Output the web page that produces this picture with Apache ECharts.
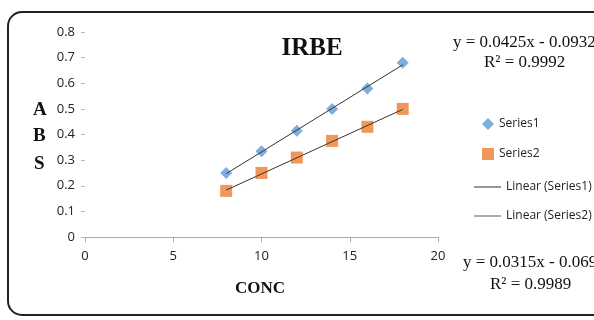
<!DOCTYPE html>
<html>
<head>
<meta charset="utf-8">
<script src="https://cdn.jsdelivr.net/npm/echarts@6/dist/echarts.min.js"></script>
<style>
  html, body { margin: 0; padding: 0; background: #fff; }
  #chart { width: 594px; height: 320px; }
</style>
</head>
<body>
<div id="chart"></div>
<script>
const conc = [8, 10, 12, 14, 16, 18];
const series1 = [0.25, 0.335, 0.415, 0.5, 0.58, 0.68];
const series2 = [0.18, 0.25, 0.31, 0.375, 0.43, 0.5];
const trend1 = [[8, 0.247], [18, 0.672]];
const trend2 = [[8, 0.183], [18, 0.498]];

const chart = echarts.init(document.getElementById("chart"));
const serif = "Liberation Serif, Times New Roman, serif";
const sans = "Open Sans, Liberation Sans, sans-serif";
const linePath = "path://M0,0L30,0L30,1.5L0,1.5Z";

chart.setOption({
  animation: false,
  grid: { left: 85, right: 156, top: 32, bottom: 83 },
  title: {
    text: "IRBE",
    left: 307,
    top: 31,
    textAlign: "center",
    textStyle: { fontFamily: serif, fontWeight: "bold", fontSize: 25, color: "#111" },
  },
  xAxis: {
    type: "value",
    min: 0,
    max: 20,
    interval: 5,
    axisLine: { show: true, lineStyle: { color: "#aaa" } },
    axisTick: { show: true, length: 5, lineStyle: { color: "#aaa" } },
    splitLine: { show: false },
    axisLabel: { fontFamily: sans, fontSize: 13, color: "#222", margin: 13 },
  },
  yAxis: {
    type: "value",
    min: 0,
    max: 0.8,
    interval: 0.1,
    axisLine: { show: false },
    axisTick: { show: true, length: 4, lineStyle: { color: "#bbb" } },
    splitLine: { show: false },
    axisLabel: { fontFamily: sans, fontSize: 13, color: "#222", margin: 10,
      formatter: (v) => (v === 0 ? "0" : v.toFixed(1)) },
  },
  graphic: [
    { type: "rect", shape: { x: 8, y: 12, width: 640, height: 303, r: 14 },
      style: { fill: "none", stroke: "#222", lineWidth: 2 }, z: -1 },
    { type: "text", left: 33, top: 101, style: { text: "A", font: "bold 19px " + serif, fill: "#111" } },
    { type: "text", left: 33, top: 127, style: { text: "B", font: "bold 19px " + serif, fill: "#111" } },
    { type: "text", left: 34, top: 155, style: { text: "S", font: "bold 19px " + serif, fill: "#111" } },
    { type: "text", left: 235, top: 280, style: { text: "CONC", font: "bold 17px " + serif, fill: "#111" } },
    { type: "text", left: 453, top: 34, style: { text: "y = 0.0425x - 0.0932", font: "17px " + serif, fill: "#111" } },
    { type: "text", left: 484, top: 54, style: { text: "R² = 0.9992", font: "17px " + serif, fill: "#111" } },
    { type: "text", left: 463, top: 254, style: { text: "y = 0.0315x - 0.069", font: "17px " + serif, fill: "#111" } },
    { type: "text", left: 490, top: 276, style: { text: "R² = 0.9989", font: "17px " + serif, fill: "#111" } },
  ],
  legend: [
    {
      orient: "vertical",
      left: 477,
      top: 113,
      itemGap: 18,
      itemWidth: 12,
      itemHeight: 12,
      textStyle: { fontFamily: sans, fontSize: 12, color: "#222" },
      data: [
        { name: "Series1", icon: "diamond" },
        { name: "Series2", icon: "rect" },
      ],
    },
    {
      orient: "vertical",
      left: 469,
      top: 176,
      itemGap: 17,
      itemWidth: 27,
      itemHeight: 14,
      textStyle: { fontFamily: sans, fontSize: 12, color: "#222" },
      data: [
        { name: "Linear (Series1)", icon: linePath, itemStyle: { color: "#666" } },
        { name: "Linear (Series2)", icon: linePath, itemStyle: { color: "#888" } },
      ],
    },
  ],
  series: [
    {
      name: "Linear (Series1)",
      type: "line",
      data: trend1,
      symbol: "none",
      lineStyle: { color: "#333", width: 1 },
      itemStyle: { color: "#666" },
      z: 3,
    },
    {
      name: "Linear (Series2)",
      type: "line",
      data: trend2,
      symbol: "none",
      lineStyle: { color: "#333", width: 1 },
      itemStyle: { color: "#888" },
      z: 3,
    },
    {
      name: "Series1",
      type: "scatter",
      data: conc.map((c, i) => [c, series1[i]]),
      symbol: "diamond",
      symbolSize: 12,
      itemStyle: { color: "#5B9BD5" },
      z: 2,
    },
    {
      name: "Series2",
      type: "scatter",
      data: conc.map((c, i) => [c, series2[i]]),
      symbol: "rect",
      symbolSize: 12,
      itemStyle: { color: "#ED7D31" },
      z: 2,
    },
  ],
});
</script>
</body>
</html>
